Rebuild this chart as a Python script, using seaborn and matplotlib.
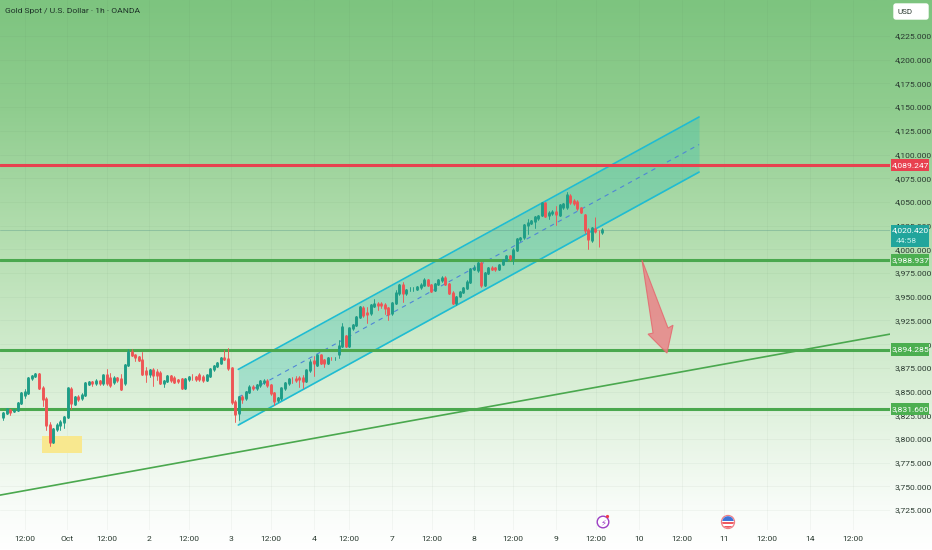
import numpy as np
import pandas as pd
import seaborn as sns
import matplotlib.pyplot as plt
from matplotlib.colors import LinearSegmentedColormap
from matplotlib.patches import Circle, FancyBboxPatch, Polygon, Rectangle

# hourly candles, bar 0 is the leftmost one
opens = [3822.7, 3827, 3831, 3829, 3831, 3838, 3846, 3848, 3864, 3866, 3869, 3854, 3842, 3815, 3797, 3811, 3815, 3818, 3823, 3853,
         3837, 3844.5, 3843, 3846, 3858, 3859.6, 3858.6, 3861.4, 3858.6, 3867.4, 3864, 3860, 3864, 3863, 3858.6, 3878, 3891.6, 3888.5, 3886.7, 3883,
         3872, 3869, 3872.7, 3871, 3870, 3859, 3861.4, 3866, 3864.6, 3862, 3863, 3854, 3863, 3865.6, 3865.6, 3867.4, 3865.6, 3862, 3866, 3873.4,
         3877, 3880.4, 3885, 3884, 3874.4, 3839, 3827, 3844.5, 3842.8, 3849.8, 3855, 3853.3, 3856.8, 3860.3, 3861.4, 3856.8, 3848, 3841, 3842.8, 3853.3,
         3858.6, 3863, 3863, 3864.6, 3863.9, 3861, 3872.7, 3882, 3878, 3888.5, 3883, 3880.4, 3884.6, 3884.3, 3890, 3898, 3908.5, 3898, 3916.6, 3920,
         3929, 3937.7, 3932.4, 3932.4, 3940, 3942.3, 3942.3, 3941.2, 3937.7, 3932.4, 3943.7, 3953.5, 3962.3, 3953.5, 3957.8, 3958.1, 3958.5, 3959.9, 3962.7, 3967.6,
         3962.3, 3957, 3963.4, 3967.6, 3969.4, 3963.4, 3954.2, 3943.7, 3950.7, 3955.3, 3958.8, 3965.9, 3978.9, 3978, 3985.2, 3962.3, 3975.4, 3980, 3980, 3978.9,
         3984.5, 3988.7, 3992.9, 3990.5, 3999.3, 4010.5, 4012.6, 4025.6, 4028, 4030.2, 4032.7, 4036.2, 4048.5, 4036.5, 4037.9, 4039, 4036.2, 4045, 4044.3, 4056.2,
         4051.3, 4050.2, 4043.2, 4036.2, 4020.4, 4009.8, 4022.1, 4018.6, 4017.9]
closes = [3827, 3832, 3828, 3831, 3838, 3848, 3850, 3864, 3866, 3869, 3854, 3842, 3815, 3797, 3811, 3815, 3818, 3823, 3853.3, 3837.5,
          3844, 3842.4, 3846, 3858.6, 3859.6, 3859.3, 3861.4, 3858.6, 3867.4, 3858.6, 3857, 3864, 3862, 3853, 3878, 3892, 3888.5, 3886.7, 3883, 3869,
          3868.4, 3872.7, 3867.4, 3868, 3859.3, 3861.4, 3866.3, 3862, 3860.3, 3861.4, 3854, 3863, 3865, 3865, 3862.8, 3862.8, 3862, 3867.4, 3873.4, 3877,
          3880.4, 3885, 3884, 3874.4, 3839, 3826, 3844.5, 3841.7, 3849.8, 3855, 3854, 3856.8, 3861.4, 3861.4, 3856.8, 3848, 3840.3, 3842.8, 3853.3, 3858.6,
          3862.8, 3862.8, 3862, 3863.2, 3861, 3872.7, 3881.5, 3880, 3888.5, 3880.4, 3880.4, 3885, 3884.3, 3884.6, 3898, 3918.4, 3898, 3916.6, 3920, 3929,
          3938.8, 3930.7, 3931.7, 3941.2, 3942.3, 3941.2, 3941.2, 3937.7, 3931.4, 3943.7, 3953.5, 3962.3, 3953.5, 3957, 3958.1, 3958.5, 3959.9, 3962.7, 3967.6, 3962.3,
          3956.4, 3963.4, 3967.6, 3969.4, 3963.4, 3954.2, 3943.7, 3950, 3954.6, 3958.8, 3965.9, 3978.9, 3980.3, 3985.2, 3962.3, 3975.4, 3980, 3979.8, 3978.9, 3983.4,
          3988.7, 3992.9, 3990.5, 3999.3, 4010.5, 4011.6, 4025.6, 4028, 4030.2, 4033.7, 4035.1, 4048.5, 4035.1, 4037.9, 4039, 4036.9, 4046.7, 4047.8, 4057.3, 4050.2,
          4048.5, 4043.2, 4039.7, 4020.4, 4010.5, 4022.1, 4018.6, 4017.9, 4020.42]
highs = [3828, 3833, 3832, 3832, 3839, 3850, 3853, 3865, 3867, 3870, 3870, 3856, 3844, 3818, 3812, 3817, 3820, 3824, 3854, 3855,
         3845, 3846, 3848, 3860, 3861, 3861, 3863, 3862, 3868, 3874, 3870, 3866, 3865, 3869, 3879, 3895, 3895, 3889, 3888, 3892,
         3876, 3874, 3875, 3874, 3872, 3862, 3867, 3868, 3866, 3863, 3864, 3864, 3866, 3869, 3866, 3870, 3868, 3868, 3875, 3878,
         3881, 3886, 3894, 3896, 3875, 3841, 3845, 3846, 3851, 3857, 3857, 3858, 3862, 3863, 3863, 3858, 3850, 3844, 3854, 3860,
         3864, 3865, 3866, 3866, 3867, 3873, 3884, 3887, 3889, 3889, 3884, 3886, 3886, 3886, 3904, 3922, 3910, 3917, 3921, 3930,
         3940, 3940, 3939, 3942, 3948, 3945, 3944, 3943, 3939, 3945, 3957, 3963, 3966, 3958, 3960, 3960, 3961, 3964, 3970, 3969,
         3963, 3964, 3969, 3972, 3972, 3965, 3956, 3951, 3956, 3960, 3968, 3980, 3983, 3987, 3987, 3976, 3981, 3982, 3981, 3985,
         3990, 3994, 3994, 4001, 4012, 4013, 4027, 4032, 4031, 4035, 4036, 4050, 4049, 4040, 4041, 4046, 4048, 4049, 4060, 4058,
         4053, 4052, 4044, 4037, 4022, 4024, 4034, 4020, 4022]
lows = [3820, 3826, 3825, 3828, 3830, 3837, 3843, 3847, 3862, 3865, 3853, 3835, 3809, 3793, 3796, 3808, 3809, 3812, 3822, 3832,
        3836, 3840, 3841, 3845, 3857, 3856, 3857, 3857, 3857, 3857, 3855, 3858, 3860, 3852, 3857, 3877, 3887, 3882, 3882, 3867,
        3860, 3865, 3856, 3862, 3858, 3855, 3860, 3860, 3859, 3859, 3853, 3853, 3861, 3862, 3861, 3861, 3860, 3861, 3865, 3872,
        3876, 3880, 3883, 3873, 3837, 3818, 3820, 3838, 3841, 3848, 3852, 3852, 3855, 3858, 3855, 3846, 3836, 3839, 3841, 3852,
        3857, 3859, 3860, 3855, 3854, 3860, 3871, 3866, 3877, 3879, 3876, 3879, 3883, 3883, 3885, 3897, 3897, 3897, 3915, 3919,
        3928, 3929, 3922, 3931, 3939, 3936, 3938, 3932, 3925, 3931, 3942, 3952, 3945, 3952, 3956, 3956, 3957, 3958, 3962, 3961,
        3955, 3956, 3962, 3966, 3962, 3953, 3942, 3941, 3950, 3954, 3958, 3965, 3978, 3976, 3960, 3961, 3974, 3978, 3977, 3978,
        3983, 3988, 3989, 3985, 3998, 4009, 4011, 4016, 4027, 4022, 4031, 4035, 4034, 4032, 4036, 4026, 4035, 4043, 4043, 4048,
        4047, 4041, 4038, 4017, 4000, 4008, 4017, 4002, 4016]

price_ticks = list(range(3725, 4226, 25))
time_ticks = [6.1, 17.9, 29.1, 40.9, 52.1, 63.9, 75.1, 87.1, 96.9, 109, 120.2, 132, 143, 155, 166.2, 178.3, 190.3, 202.1, 214.2, 226.2, 238.3]
time_labels = ["12:00", "Oct", "12:00", "2", "12:00", "3", "12:00", "4", "12:00", "7", "12:00", "8", "12:00", "9", "12:00", "10", "12:00", "11", "12:00", "14", "12:00"]

resistance = 4089.247
supports = [3988.937, 3894.285, 3831.600]
last_price = 4020.420

channel_x = [65.9, 195.1]
channel_upper = [3873.4, 4139.6]
channel_lower = [3814.7, 4081.5]
trend_x = [-0.93, 248.65]
trend_y = [3740.8, 3910.6]
box_x = [10.9, 22.0]
box_y = [3785, 3803]
arrow_x = [179.1, 186.4, 187.8, 186.1, 180.8, 182.2]
arrow_y = [3988.7, 3917, 3920, 3890.6, 3910.6, 3911.7]

GREEN = "#1f9d87"
RED = "#ee5555"
LINE_GREEN = "#4aa84e"
CHANNEL = "#1fbcd2"
TEXT = "#2a3a30"
SMALL = 6.1

sns.set_theme(style="white")
plt.rcParams["font.family"] = ["Roboto", "DejaVu Sans"]

candles = pd.DataFrame({"bar": range(len(opens)), "open": opens, "close": closes, "high": highs, "low": lows})
candles["dir"] = np.where(candles["close"] >= candles["open"], "up", "down")
bodies = candles.melt(id_vars=["bar", "dir"], value_vars=["open", "close"], value_name="price")
wicks = candles.melt(id_vars=["bar", "dir"], value_vars=["low", "high"], value_name="price")
palette = {"up": GREEN, "down": RED}

fig = plt.figure(figsize=(9.32, 5.50), dpi=100)

# page background fades from green to white
bg = fig.add_axes([0, 0, 1, 1], zorder=0)
bg.axis("off")
fade = LinearSegmentedColormap.from_list(
    "fade", [(0, "#7dc47f"), (0.2, "#90cd8f"), (0.45, "#b6dfb2"), (0.72, "#dcf0d9"), (0.92, "#f8fcf8"), (1, "#ffffff")])
bg.imshow(np.linspace(0, 1, 256)[:, None], aspect="auto", cmap=fade, extent=[0, 1, 0, 1])

ax = fig.add_axes([0, 20 / 550, 890 / 932, 530 / 550], zorder=1)
ax.patch.set_alpha(0)
ax.set_xlim(-0.93, 248.65)
ax.set_ylim(3704, 4263)

ax.set_yticks(price_ticks)
ax.set_yticklabels([f"{p:,.3f}" for p in price_ticks])
ax.yaxis.tick_right()
ax.set_xticks(time_ticks)
ax.set_xticklabels(time_labels)
ax.tick_params(axis="y", length=0, pad=3.5, labelsize=SMALL, labelcolor=TEXT)
ax.tick_params(axis="x", length=0, pad=4.5, labelsize=SMALL, labelcolor=TEXT)
ax.grid(True, color="#4d6f50", alpha=0.05, lw=0.7)
ax.set_axisbelow(True)
sns.despine(ax=ax, left=True, bottom=True, right=True, top=True)

# channel, highlight box and trend line sit under the candles
ax.fill_between(channel_x, channel_lower, channel_upper, color="#2fbfb4", alpha=0.3, lw=0, zorder=1.5)
ax.plot(channel_x, channel_upper, color=CHANNEL, lw=1.2, zorder=2)
ax.plot(channel_x, channel_lower, color=CHANNEL, lw=1.2, zorder=2)
ax.plot(channel_x, [(a + b) / 2 for a, b in zip(channel_upper, channel_lower)], color="#4f86d6", lw=0.8, ls=(0, (4, 4)), zorder=2)
ax.add_patch(Rectangle((box_x[0], box_y[0]), box_x[1] - box_x[0], box_y[1] - box_y[0], color="#f8e88f", lw=0, zorder=1.6))
ax.plot(trend_x, trend_y, color=LINE_GREEN, lw=1.2, zorder=2)

ax.axhline(last_price, color="#5f9c8c", lw=0.6, alpha=0.5, zorder=2)
ax.axhline(resistance, color="#e8414f", lw=2.2, zorder=3)
for level in supports:
    ax.axhline(level, color=LINE_GREEN, lw=2.2, zorder=3)

sns.lineplot(data=wicks, x="bar", y="price", units="bar", estimator=None, hue="dir", palette=palette,
             lw=0.65, sort=False, legend=False, ax=ax, zorder=4)
for line in ax.lines[-2:]:
    line.set_solid_capstyle("butt")
sns.lineplot(data=bodies, x="bar", y="price", units="bar", estimator=None, hue="dir", palette=palette,
             lw=2.1, sort=False, legend=False, ax=ax, zorder=4.5)
for line in ax.lines[-2:]:
    line.set_solid_capstyle("butt")
ax.set_xlabel("")
ax.set_ylabel("")

ax.add_patch(Polygon(np.column_stack([arrow_x, arrow_y]), closed=True, facecolor="#e98488", edgecolor="#e4686e", alpha=0.85, lw=0.8, zorder=5))


def price_tag(y, label, color, height=13):
    trans = ax.get_yaxis_transform()
    ax.add_patch(Rectangle((891 / 890, y - height / 2), 38 / 890, height, transform=trans, color=color, lw=0, clip_on=False, zorder=6))
    ax.text(910.5 / 890, y, label, transform=trans, color="white", fontsize=SMALL, ha="center", va="center", zorder=7, clip_on=False)


price_tag(resistance, "4,089.247", "#e8414f")
price_tag(supports[0], "3,988.937", "#4caf50")
price_tag(supports[1], "3,894.285", "#4caf50")
price_tag(supports[2], "3,831.600", "#4caf50")

# current price tag holds the countdown too
trans = ax.get_yaxis_transform()
ax.add_patch(Rectangle((891 / 890, 4003), 38 / 890, 23, transform=trans, color="#21a59c", lw=0, clip_on=False, zorder=6))
ax.text(910.5 / 890, 4020.4, "4,020.420", transform=trans, color="white", fontsize=SMALL, ha="center", va="center", zorder=7)
ax.text(896 / 890, 4009, "44:58", transform=trans, color="#bfeee9", fontsize=SMALL, ha="left", va="center", zorder=7)

fig.text(5 / 932, 1 - 11 / 550, "Gold Spot / U.S. Dollar · 1h · OANDA", color="#1e3328", fontsize=6.1, va="center", zorder=5)

# event markers and the currency button, placed in page pixels
icons = fig.add_axes([0, 0, 1, 1], zorder=2)
icons.axis("off")
icons.set_xlim(0, 932)
icons.set_ylim(550, 0)
icons.add_patch(FancyBboxPatch((894, 4), 34, 15, boxstyle="round,pad=0,rounding_size=2", facecolor="white", edgecolor="white", lw=1))
icons.text(898, 12, "USD", color=TEXT, fontsize=5.8, va="center")
icons.add_patch(Circle((603, 522), 5.8, facecolor="white", edgecolor="#9c3fc4", lw=1))
icons.text(603, 522.5, "⚡", color="#9c3fc4", fontsize=6, ha="center", va="center", family="DejaVu Sans")
icons.add_patch(Circle((607.5, 516.5), 1.6, color="#ef3b4a", lw=0))
clip = Circle((728, 522), 5.8, transform=icons.transData)
icons.add_patch(Circle((728, 522), 6.6, facecolor="#f4a5aa", edgecolor="#ef7f86", lw=0.8))
icons.add_patch(Circle((728, 522), 5.8, facecolor="white", lw=0))
for top, height, color in [(516, 5, "#3f74d8"), (522, 2, "#ee5a62"), (526, 2, "#ee5a62")]:
    stripe = Rectangle((722, top), 12, height, color=color, lw=0)
    icons.add_patch(stripe)
    stripe.set_clip_path(clip)

fig.savefig("out.png", dpi=100)
